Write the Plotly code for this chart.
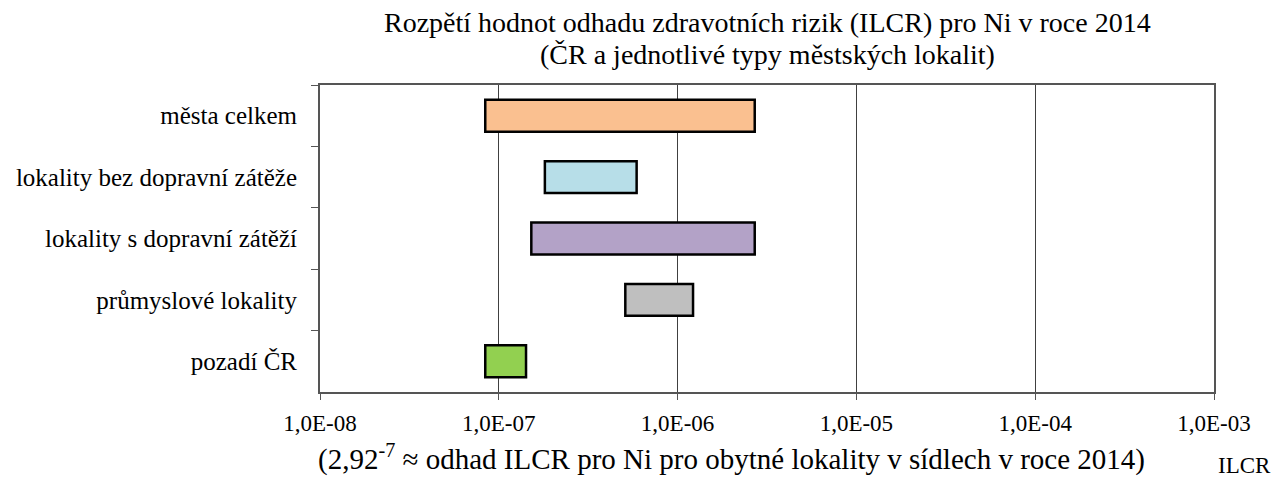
import plotly.graph_objects as go

categories = ["města celkem", "lokality bez dopravní zátěže", "lokality s dopravní zátěží",
              "průmyslové lokality", "pozadí ČR"]
low_values = [8.4e-8, 1.81e-7, 1.52e-7, 5.1e-7, 8.4e-8]
high_values = [2.7e-6, 5.9e-7, 2.7e-6, 1.22e-6, 1.42e-7]
colors = ["#FAC090", "#B7DEE8", "#B3A2C7", "#BFBFBF", "#92D050"]
tick_vals = [1e-8, 1e-7, 1e-6, 1e-5, 1e-4, 1e-3]
tick_text = ["1,0E-08", "1,0E-07", "1,0E-06", "1,0E-05", "1,0E-04", "1,0E-03"]

font_family = '"Liberation Serif", "Times New Roman", serif'

fig = go.Figure()
fig.add_trace(go.Bar(
    y=categories,
    x=[h - l for l, h in zip(low_values, high_values)],
    base=low_values,
    orientation="h",
    marker=dict(color=colors, line=dict(color="black", width=2.5)),
    hoverinfo="skip",
))

fig.update_layout(
    width=1271, height=469,
    margin=dict(l=312, r=65, t=77, b=85),
    paper_bgcolor="white", plot_bgcolor="white",
    showlegend=False,
    bargap=0.48,
    font=dict(family=font_family, size=23, color="black"),
    xaxis=dict(
        type="log", range=[-8, -3],
        tickvals=tick_vals, ticktext=tick_text,
        showgrid=True, gridcolor="#404040", gridwidth=1,
        showline=True, linecolor="#555555", linewidth=2, mirror=True,
        ticks="outside", ticklen=6, tickcolor="#555555",
        tickfont=dict(family=font_family, size=23),
        ticklabelstandoff=3,
        zeroline=False,
        automargin=False,
    ),
    yaxis=dict(
        type="category", categoryorder="array", categoryarray=categories,
        autorange="reversed",
        showline=True, linecolor="#555555", linewidth=2, mirror=True,
        ticks="outside", ticklen=7, tickcolor="#555555", tickson="boundaries",
        showgrid=False,
        tickfont=dict(family=font_family, size=25),
        ticklabelstandoff=16,
        automargin=False,
    ),
    annotations=[
        dict(text="Rozpětí hodnot odhadu zdravotních rizik (ILCR) pro Ni v roce 2014",
             xref="paper", yref="paper", x=0.5, y=1.205, xanchor="center", yanchor="middle",
             showarrow=False, font=dict(family=font_family, size=28)),
        dict(text="(ČR a jednotlivé typy městských lokalit)",
             xref="paper", yref="paper", x=0.5, y=1.098, xanchor="center", yanchor="middle",
             showarrow=False, font=dict(family=font_family, size=28)),
        dict(text="(2,92<sup>-7</sup> ≈ odhad ILCR pro Ni pro obytné lokality v sídlech v roce 2014)",
             xref="paper", yref="paper", x=0.46, y=-0.212, xanchor="center", yanchor="middle",
             showarrow=False, font=dict(family=font_family, size=29)),
        dict(text="ILCR", xref="paper", yref="paper", x=1.066, y=-0.238,
             xanchor="right", yanchor="middle", showarrow=False,
             font=dict(family=font_family, size=23)),
    ],
)

fig.write_html("out.html")
